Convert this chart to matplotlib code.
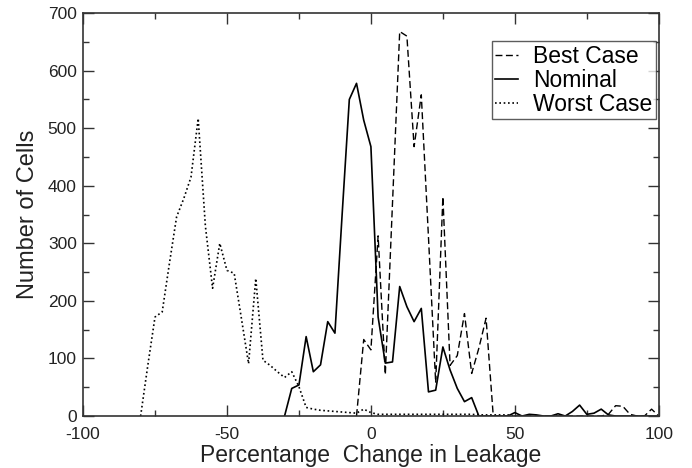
import numpy as np
import matplotlib
matplotlib.use("Agg")
import matplotlib.pyplot as plt
from matplotlib.ticker import MultipleLocator

plt.rcParams['font.family'] = ['Liberation Sans', 'DejaVu Sans']
plt.rcParams['axes.unicode_minus'] = False

# ---- data ----
worst_x = [-80, -77.5, -75, -72.5, -70, -67.5, -65, -62.5, -60, -57.5, -55, -52.5,
           -50, -47.5, -45, -42.5, -40, -37.5, -35, -32.5, -30, -27.5, -25, -22.5,
           -20, -17.5, -15, -12.5, -10, -7.5, -5, -2.5, 0, 2.5, 5, 7.5, 10, 12.5,
           15, 17.5, 20, 22.5, 25, 27.5, 30, 32.5, 35, 37.5, 40, 42.5, 45, 47.5, 50]
worst_y = [0, 88, 172, 181, 265, 346, 378, 415, 517, 330, 222, 300,
           253, 248, 170, 91, 239, 97, 88, 77, 67, 77, 51, 15,
           12, 10, 9, 8, 7, 6, 5, 12, 6, 3, 3, 3, 3, 3,
           3, 3, 3, 3, 3, 3, 3, 3, 3, 2, 2, 2, 2, 2, 0]

nominal_x = [-30, -27.5, -25, -22.5, -20, -17.5, -15, -12.5, -10, -7.5, -5, -2.5,
             0, 2.5, 5, 7.5, 10, 12.5, 15, 17.5, 20, 22.5, 25, 27.5, 30, 32.5,
             35, 37.5, 40, 42.5, 45, 47.5, 50, 52.5, 55, 57.5, 60, 62.5, 65,
             67.5, 70, 72.5, 75, 77.5, 80, 82.5, 85, 87.5, 90, 92.5, 95, 97.5, 100]
nominal_y = [0, 48, 54, 138, 77, 89, 164, 144, 350, 550, 578, 514,
             468, 172, 92, 94, 225, 190, 164, 187, 42, 45, 120, 80, 48, 25,
             32, 0, 0, 0, 0, 0, 6, 0, 3, 2, 0, 0, 4,
             0, 8, 19, 3, 5, 12, 2, 0, 0, 0, 0, 0, 0, 0]

best_x = [-5, -2.5, 0, 2.5, 5, 7.5, 10, 12.5, 15, 17.5, 20, 22.5, 25, 27.5,
          30, 32.5, 35, 37.5, 40, 42.5, 45, 47.5, 50, 52.5, 55, 57.5, 60, 62.5,
          65, 67.5, 70, 72.5, 75, 77.5, 80, 82.5, 85, 87.5, 90, 92.5, 95, 97.5, 100]
best_y = [0, 133, 115, 313, 72, 370, 668, 660, 468, 558, 310, 58, 381, 88,
          105, 178, 74, 118, 170, 0, 0, 0, 0, 0, 0, 0, 0, 0,
          0, 0, 0, 0, 0, 0, 0, 3, 18, 17, 3, 0, 0, 12, 0]

x_ticks = [-100, -50, 0, 50, 100]
y_ticks = [0, 100, 200, 300, 400, 500, 600, 700]

# ---- figure ----
fig = plt.figure(figsize=(6.92, 4.68), dpi=100)
ax = fig.add_axes([0.12, 0.111, 0.832, 0.861])

ax.plot(best_x, best_y, color='black', lw=1.0, linestyle=(0, (5, 2.5)), label='Best Case')
ax.plot(nominal_x, nominal_y, color='black', lw=1.2, linestyle='-', label='Nominal')
ax.plot(worst_x, worst_y, color='black', lw=1.2, linestyle=(0, (1, 1.6)), label='Worst Case')

ax.set_xlim(-100, 100)
ax.set_ylim(0, 700)
ax.set_xticks(x_ticks)
ax.set_yticks(y_ticks)
ax.xaxis.set_minor_locator(MultipleLocator(25))
ax.yaxis.set_minor_locator(MultipleLocator(50))
ax.tick_params(which='both', direction='in', top=True, right=True,
               width=1.0, color='#333333', labelsize=12.5, labelcolor='#222222')
ax.tick_params(which='major', length=8)
ax.tick_params(which='minor', length=4.5)
ax.tick_params(axis='x', which='major', pad=8)
ax.tick_params(axis='y', which='major', pad=4.5)
for s in ax.spines.values():
    s.set_linewidth(1.2)
    s.set_color('#333333')

ax.set_xlabel('Percentange  Change in Leakage', fontsize=16.5, color='#222222', labelpad=1)
ax.set_ylabel('Number of Cells', fontsize=17, color='#222222', labelpad=6)

leg = ax.legend(loc='upper right', bbox_to_anchor=(0.995, 0.93), fontsize=16.5,
                frameon=True, fancybox=False, shadow=False, handlelength=1.0,
                handletextpad=0.65, labelspacing=0.05, borderpad=0.15, borderaxespad=0)
leg.get_frame().set_edgecolor('#333333')
leg.get_frame().set_linewidth(1.0)

fig.savefig('out.png', dpi=100)
